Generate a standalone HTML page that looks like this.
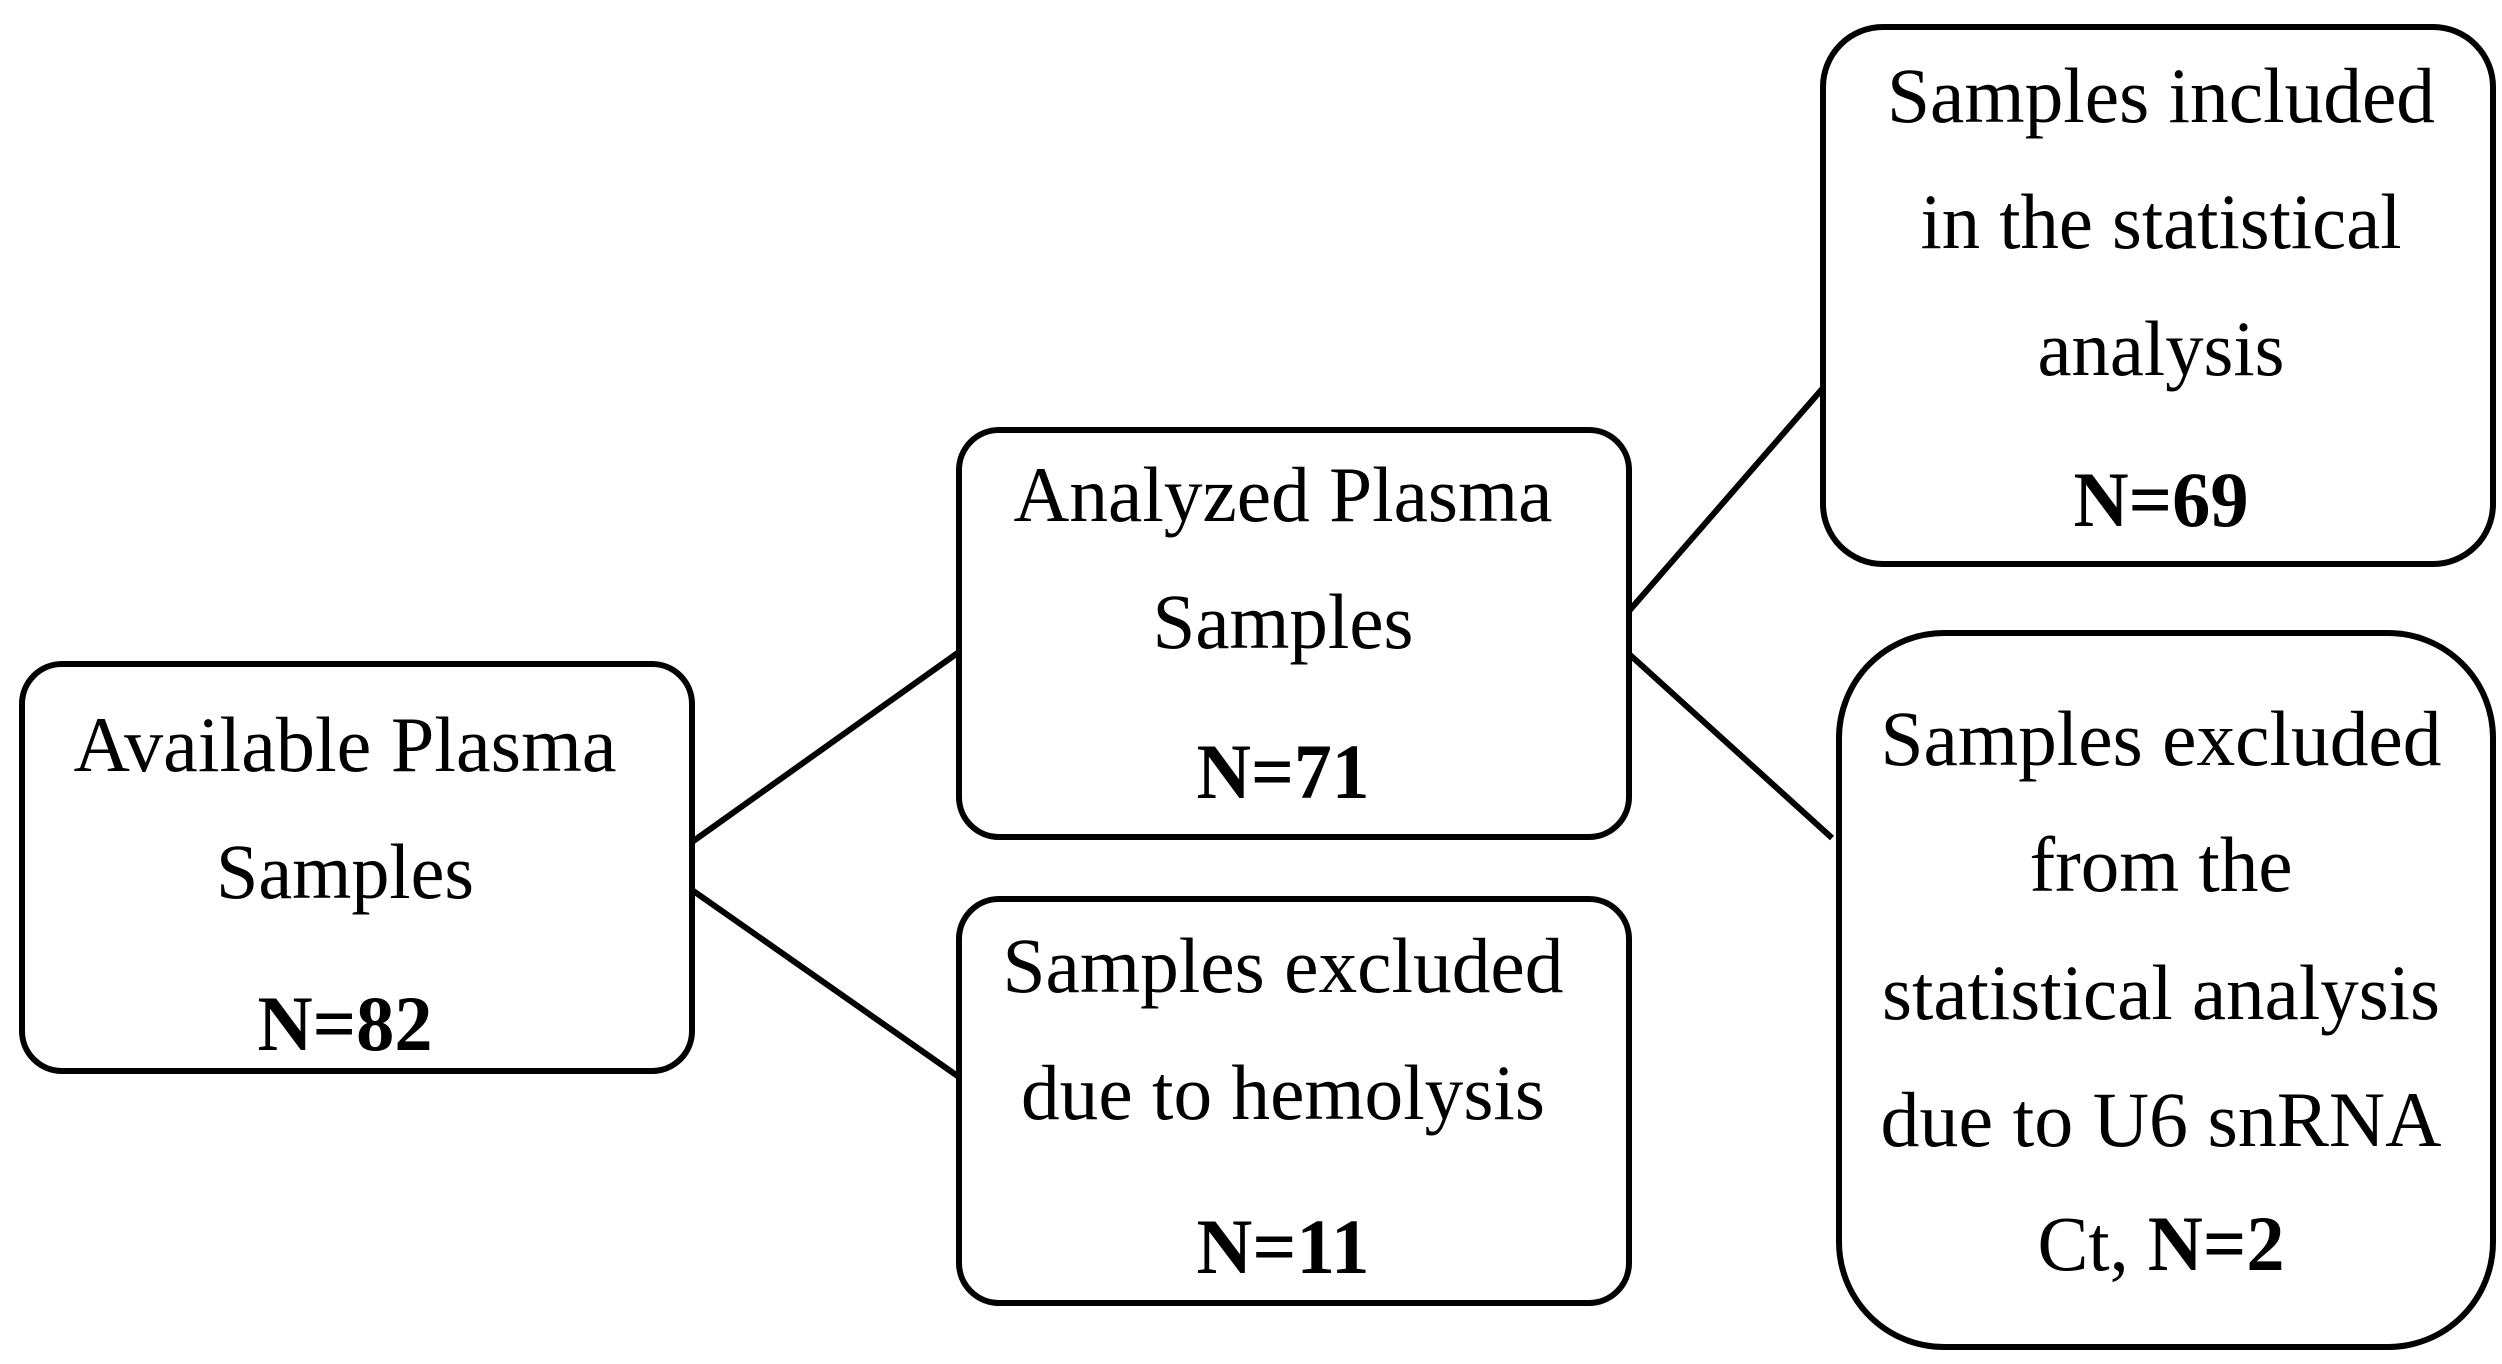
<!DOCTYPE html>
<html><head><meta charset="utf-8"><style>html,body{margin:0;padding:0;background:#fff}svg{display:block}</style></head>
<body>
<svg width="2502" height="1364" viewBox="0 0 2502 1364" xmlns="http://www.w3.org/2000/svg" font-family="'Liberation Serif', serif" font-size="78" text-anchor="middle" fill="#000">
<g fill="none" stroke="#000" stroke-width="6">
<rect x="22" y="664" width="670" height="407" rx="40"/>
<rect x="959" y="430" width="670" height="407" rx="40"/>
<rect x="959" y="899" width="670" height="404" rx="40"/>
<rect x="1823" y="27" width="670" height="537" rx="60"/>
<rect x="1839" y="633" width="654" height="714" rx="105"/>
<line x1="692" y1="842" x2="959" y2="652"/>
<line x1="692" y1="890" x2="959" y2="1077"/>
<line x1="1629" y1="611" x2="1823" y2="388"/>
<line x1="1629" y1="654" x2="1832" y2="838"/>
</g>
<text x="345" y="771" textLength="543" lengthAdjust="spacingAndGlyphs">Available Plasma</text>
<text x="345" y="898" textLength="258" lengthAdjust="spacingAndGlyphs">Samples</text>
<text x="345" y="1050" font-weight="bold" textLength="175" lengthAdjust="spacingAndGlyphs">N=82</text>

<text x="1283" y="521" textLength="539" lengthAdjust="spacingAndGlyphs">Analyzed Plasma</text>
<text x="1283" y="648" textLength="261" lengthAdjust="spacingAndGlyphs">Samples</text>
<text x="1283" y="798" font-weight="bold" textLength="173" lengthAdjust="spacingAndGlyphs">N=71</text>

<text x="1283" y="992" textLength="561" lengthAdjust="spacingAndGlyphs">Samples excluded</text>
<text x="1283" y="1119" textLength="524" lengthAdjust="spacingAndGlyphs">due to hemolysis</text>
<text x="1283" y="1273" font-weight="bold" textLength="173" lengthAdjust="spacingAndGlyphs">N=11</text>

<text x="2161" y="122" textLength="548" lengthAdjust="spacingAndGlyphs">Samples included</text>
<text x="2161" y="248" textLength="481" lengthAdjust="spacingAndGlyphs">in the statistical</text>
<text x="2161" y="375" textLength="247" lengthAdjust="spacingAndGlyphs">analysis</text>
<text x="2161" y="526" font-weight="bold" textLength="175" lengthAdjust="spacingAndGlyphs">N=69</text>

<text x="2161" y="765" textLength="561" lengthAdjust="spacingAndGlyphs">Samples excluded</text>
<text x="2161" y="891" textLength="263" lengthAdjust="spacingAndGlyphs">from the</text>
<text x="2161" y="1019" textLength="558" lengthAdjust="spacingAndGlyphs">statistical analysis</text>
<text x="2161" y="1146" textLength="561" lengthAdjust="spacingAndGlyphs">due to U6 snRNA</text>
<text x="2161" y="1270" textLength="247" lengthAdjust="spacingAndGlyphs">Ct, <tspan font-weight="bold">N=2</tspan></text>
</svg>
</body></html>
